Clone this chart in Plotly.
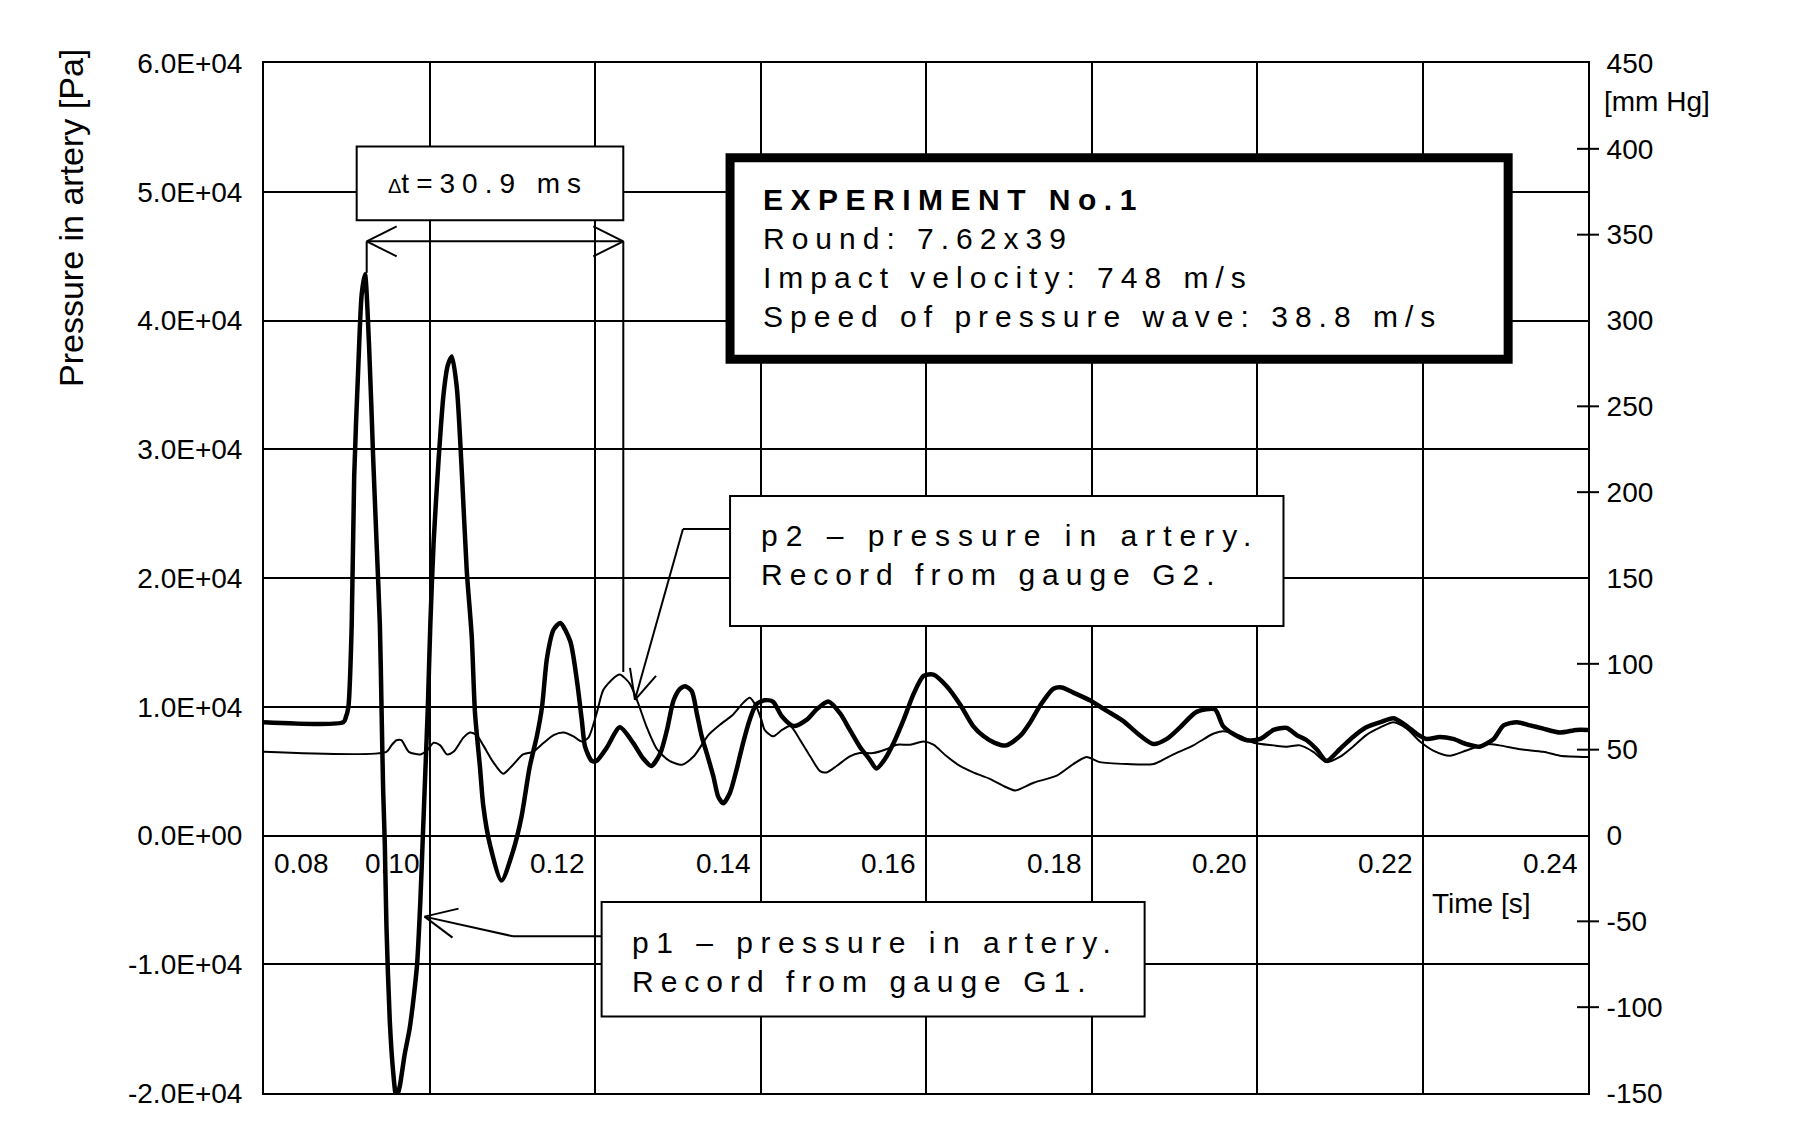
import plotly.graph_objects as go

# ---------------- data ----------------
t_p1 = [0.0800, 0.0896, 0.0899, 0.0902, 0.0906, 0.0909, 0.0914, 0.0918, 0.0922, 0.0927,
        0.0932, 0.0936, 0.0940, 0.0942, 0.0944, 0.0946, 0.0948, 0.0952, 0.0956, 0.0960,
        0.0964, 0.0970, 0.0976, 0.0981, 0.0985, 0.0989, 0.0992, 0.0995, 0.0998, 0.1001,
        0.1005, 0.1011, 0.1017, 0.1022, 0.1027, 0.1033, 0.1039, 0.1045, 0.1051, 0.1055,
        0.1061, 0.1065, 0.1073, 0.1087, 0.1101, 0.1111, 0.1121, 0.1130, 0.1136, 0.1142,
        0.1150, 0.1158, 0.1170, 0.1178, 0.1184, 0.1188, 0.1196, 0.1202, 0.1214, 0.1230,
        0.1246, 0.1258, 0.1268, 0.1279, 0.1287, 0.1295, 0.1303, 0.1309, 0.1317, 0.1323,
        0.1329, 0.1335, 0.1343, 0.1349, 0.1355, 0.1363, 0.1371, 0.1379, 0.1387, 0.1395,
        0.1405, 0.1415, 0.1426, 0.1440, 0.1456, 0.1468, 0.1482, 0.1496, 0.1508, 0.1520,
        0.1532, 0.1540, 0.1550, 0.1561, 0.1573, 0.1585, 0.1597, 0.1609, 0.1625, 0.1641,
        0.1657, 0.1669, 0.1683, 0.1697, 0.1714, 0.1726, 0.1738, 0.1754, 0.1764, 0.1778,
        0.1798, 0.1818, 0.1838, 0.1859, 0.1875, 0.1891, 0.1907, 0.1927, 0.1949, 0.1959,
        0.1971, 0.1988, 0.2004, 0.2020, 0.2036, 0.2048, 0.2060, 0.2072, 0.2084, 0.2100,
        0.2116, 0.2132, 0.2149, 0.2165, 0.2181, 0.2193, 0.2205, 0.2221, 0.2237, 0.2253,
        0.2269, 0.2286, 0.2298, 0.2314, 0.2330, 0.2346, 0.2366, 0.2386, 0.2400]
p1_pa = [8800, 8800, 9200, 10000, 16400, 27900, 36500, 42000, 43600, 38000,
         29200, 22800, 16400, 10000, 3500, -700, -7100, -14400, -18300, -20400,
         -19500, -17000, -15000, -12500, -10000, -5000, 0, 5000, 10000, 16400,
         22800, 29200, 34300, 36500, 37200, 34800, 28300, 20600, 15500, 9500,
         5300, 2300, -700, -3500, -1200, 1400, 5300, 7800, 10000, 13800,
         16000, 16500, 15100, 12100, 9000, 6900, 5800, 5800, 6800, 8400,
         7200, 6000, 5400, 6400, 8200, 10500, 11400, 11600, 11200, 9500,
         7700, 6400, 4600, 3000, 2500, 3300, 5100, 7200, 9000, 10200,
         10500, 10400, 9250, 8500, 9000, 9800, 10400, 9500, 8200, 6900,
         5900, 5200, 5900, 7200, 9000, 11000, 12400, 12500, 11600, 10200,
         8500, 7750, 7200, 7000, 7750, 8800, 10100, 11400, 11500, 11100,
         10500, 9700, 8900, 7750, 7100, 7500, 8400, 9600, 9800, 8500,
         7900, 7400, 7500, 8200, 8350, 7800, 7400, 6700, 5800, 6700,
         7650, 8400, 8800, 9100, 8500, 7900, 7500, 7650, 7500, 7100,
         6900, 7500, 8550, 8800, 8550, 8300, 8000, 8200, 8200]

t_p2 = [0.0800, 0.0948, 0.0954, 0.0960, 0.0966, 0.0975, 0.0989, 0.0997, 0.1005, 0.1013,
        0.1021, 0.1029, 0.1041, 0.1049, 0.1057, 0.1065, 0.1077, 0.1089, 0.1101, 0.1113,
        0.1125, 0.1138, 0.1150, 0.1162, 0.1174, 0.1184, 0.1192, 0.1202, 0.1210, 0.1222,
        0.1230, 0.1242, 0.1252, 0.1262, 0.1275, 0.1290, 0.1305, 0.1320, 0.1337, 0.1351,
        0.1367, 0.1379, 0.1387, 0.1395, 0.1401, 0.1405, 0.1415, 0.1426, 0.1436, 0.1448,
        0.1460, 0.1472, 0.1480, 0.1492, 0.1508, 0.1520, 0.1536, 0.1552, 0.1565, 0.1581,
        0.1597, 0.1609, 0.1625, 0.1641, 0.1657, 0.1677, 0.1697, 0.1708, 0.1730, 0.1758,
        0.1778, 0.1794, 0.1810, 0.1843, 0.1875, 0.1899, 0.1923, 0.1947, 0.1959, 0.1979,
        0.1996, 0.2020, 0.2036, 0.2052, 0.2068, 0.2084, 0.2100, 0.2116, 0.2132, 0.2149,
        0.2165, 0.2181, 0.2197, 0.2213, 0.2233, 0.2253, 0.2277, 0.2293, 0.2318, 0.2346,
        0.2366, 0.2400]
p2_pa = [6500, 6500, 7000, 7400, 7400, 6500, 6300, 6600, 7200, 7000,
         6300, 6500, 7600, 8000, 7800, 7000, 5700, 4800, 5500, 6300,
         6500, 7200, 7800, 8000, 7700, 7300, 7600, 9500, 11300, 12200,
         12500, 11800, 10300, 8500, 6700, 5800, 5500, 6200, 7800, 8600,
         9400, 10300, 10700, 10000, 9000, 8200, 7700, 8200, 8500, 7400,
         6150, 5000, 4900, 5400, 6150, 6400, 6400, 6700, 7050, 7050,
         7300, 7050, 6150, 5400, 4900, 4400, 3750, 3500, 4100, 4650,
         5550, 6100, 5700, 5550, 5550, 6300, 7000, 7900, 8100, 7750,
         7200, 7000, 6900, 7000, 6500, 5700, 6100, 6900, 7800, 8400,
         8800, 8300, 7300, 6600, 6200, 6600, 7100, 7000, 6700, 6500,
         6200, 6100]

x_ticks = [0.08, 0.10, 0.12, 0.14, 0.16, 0.18, 0.20, 0.22, 0.24]
x_labels = ["0.08", "0.10", "0.12", "0.14", "0.16", "0.18", "0.20", "0.22", "0.24"]
y_ticks = [-20000, -10000, 0, 10000, 20000, 30000, 40000, 50000, 60000]
y_labels = ["-2.0E+04", "-1.0E+04", "0.0E+00", "1.0E+04", "2.0E+04",
            "3.0E+04", "4.0E+04", "5.0E+04", "6.0E+04"]
mmhg_ticks = [-150, -100, -50, 0, 50, 100, 150, 200, 250, 300, 350, 400, 450]
mmhg_labels = ["-150", "-100", "-50", "0", "50", "100", "150", "200", "250",
               "300", "350", "400", "450"]
mmhg_marks = [-100, -50, 50, 100, 200, 250, 350, 400]

FONT = "Liberation Sans, Arial, sans-serif"
BLK = "#000000"
TICK_SIZE = 28


def spaced(s, ls):
    return '<span style="letter-spacing:%spx">%s</span>' % (ls, s)


fig = go.Figure()
fig.add_trace(go.Scatter(x=t_p2, y=p2_pa, mode="lines", name="p2",
                         line=dict(color=BLK, width=2, shape="spline", smoothing=0.7),
                         hoverinfo="skip"))
fig.add_trace(go.Scatter(x=t_p1, y=p1_pa, mode="lines", name="p1",
                         line=dict(color=BLK, width=4.5, shape="spline", smoothing=0.7),
                         hoverinfo="skip"))

shapes = []


def seg(xa, ya, xb, yb, w=2):
    shapes.append(dict(type="line", xref="x", yref="y", x0=xa, y0=ya, x1=xb, y1=yb,
                       line=dict(color=BLK, width=w), layer="above"))


def head(x, y, dx, dy, w=2):
    shapes.append(dict(type="line", xref="x", yref="y", xsizemode="pixel", ysizemode="pixel",
                       xanchor=x, yanchor=y, x0=0, y0=0, x1=dx, y1=dy,
                       line=dict(color=BLK, width=w), layer="above"))


def box(xa, ya, xb, yb, w=2):
    shapes.append(dict(type="rect", xref="x", yref="y", x0=xa, y0=ya, x1=xb, y1=yb,
                       fillcolor="white", line=dict(color=BLK, width=w), layer="above"))


# right-axis cross ticks
for v in mmhg_marks:
    shapes.append(dict(type="line", xref="paper", yref="y2", xsizemode="pixel",
                       xanchor=1, x0=-11, x1=11, y0=v, y1=v,
                       line=dict(color=BLK, width=2), layer="above"))

# delta-t box and arrow
box(0.0912, 47780, 0.12342, 53520)
seg(0.09241, 46150, 0.12342, 46150)
seg(0.09241, 46150, 0.09241, 43700)
seg(0.12342, 46150, 0.12342, 12700)
head(0.09241, 46150, 30, 15)
head(0.09241, 46150, 30, -15)
head(0.12342, 46150, -30, 15)
head(0.12342, 46150, -30, -15)

# experiment box (thick border)
box(0.13632, 37000, 0.23035, 52650, w=9)

# p2 box + leader
box(0.13632, 16280, 0.20320, 26360)
seg(0.12483, 10540, 0.13063, 23800)
seg(0.13063, 23800, 0.13632, 23800)
head(0.12483, 10540, 21, 24)
head(0.12483, 10540, -5, 32)

# p1 box + leader
box(0.12080, -14050, 0.18642, -5160)
seg(0.0994, -6300, 0.11009, -7830)
seg(0.11009, -7830, 0.12080, -7830)
head(0.0994, -6300, 28, -21)
head(0.0994, -6300, 34, 8)

annotations = []
# x tick labels drawn inside the plot under the zero line
for v, s in zip(x_ticks, x_labels):
    first = (v == x_ticks[0])
    annotations.append(dict(x=v, y=0, xref="x", yref="y", text=s, showarrow=False,
                            xanchor="left" if first else "right", yanchor="top",
                            xshift=8 if first else -8, yshift=-10,
                            font=dict(family=FONT, size=TICK_SIZE, color=BLK)))

annotations.append(dict(x=0.22707, y=-5270, xref="x", yref="y", text="Time [s]",
                        xanchor="center", yanchor="middle", showarrow=False,
                        font=dict(family=FONT, size=28, color=BLK)))
annotations.append(dict(x=-0.1458, y=0.8495, xref="paper", yref="paper",
                        text="Pressure in artery [Pa]", textangle=-90, showarrow=False,
                        xanchor="center", yanchor="middle",
                        font=dict(family=FONT, size=34, color=BLK)))
annotations.append(dict(x=1.0105, y=0.9631, xref="paper", yref="paper", text="[mm Hg]",
                        xanchor="left", yanchor="middle", showarrow=False,
                        font=dict(family=FONT, size=28, color=BLK)))

annotations.append(dict(x=0.10707, y=50620, xref="x", yref="y",
                        text='<span style="font-size:20px">Δ</span>' + spaced("t=30.9 ms", 7),
                        showarrow=False, xanchor="center", yanchor="middle",
                        font=dict(family=FONT, size=28, color=BLK)))

exp_lines = ["<b>" + spaced("EXPERIMENT No.1", 7.5) + "</b>",
             spaced("Round: 7.62x39", 7),
             spaced("Impact velocity: 748 m/s", 7),
             spaced("Speed of pressure wave: 38.8 m/s", 7)]
annotations.append(dict(x=0.14010, y=44850, xref="x", yref="y", text="<br>".join(exp_lines),
                        showarrow=False, xanchor="left", yanchor="middle", align="left",
                        font=dict(family=FONT, size=30, color=BLK)))

annotations.append(dict(x=0.13980, y=21780, xref="x", yref="y",
                        text=spaced("p2 – pressure in artery.", 8) + "<br>" +
                        spaced("Record from gauge G2.", 7),
                        showarrow=False, xanchor="left", yanchor="middle", align="left",
                        font=dict(family=FONT, size=30, color=BLK)))
annotations.append(dict(x=0.12420, y=-9810, xref="x", yref="y",
                        text=spaced("p1 – pressure in artery.", 7.5) + "<br>" +
                        spaced("Record from gauge G1.", 7),
                        showarrow=False, xanchor="left", yanchor="middle", align="left",
                        font=dict(family=FONT, size=30, color=BLK)))

fig.update_layout(
    width=1800, height=1141,
    margin=dict(l=264, r=212, t=63, b=48),
    paper_bgcolor="white", plot_bgcolor="white",
    showlegend=False,
    font=dict(family=FONT, size=TICK_SIZE, color=BLK),
    xaxis=dict(range=[0.08, 0.24], tickvals=x_ticks, showticklabels=False, ticks="",
               showgrid=True, gridcolor=BLK, gridwidth=2, zeroline=False,
               showline=True, linecolor=BLK, linewidth=2, mirror=True),
    yaxis=dict(range=[-20000, 60000], tickvals=y_ticks, ticktext=y_labels,
               ticks="outside", ticklen=14, tickcolor="rgba(0,0,0,0)",
               showgrid=True, gridcolor=BLK, gridwidth=2, zeroline=False,
               showline=True, linecolor=BLK, linewidth=2, mirror=True,
               tickfont=dict(family=FONT, size=TICK_SIZE, color=BLK)),
    yaxis2=dict(range=[-150, 450], overlaying="y", side="right", anchor="x",
                tickvals=mmhg_ticks, ticktext=mmhg_labels,
                ticks="outside", ticklen=12, tickcolor="rgba(0,0,0,0)",
                showgrid=False, zeroline=False, showline=False,
                tickfont=dict(family=FONT, size=TICK_SIZE, color=BLK)),
    shapes=shapes,
    annotations=annotations,
)

fig.write_html("out.html", config={"displayModeBar": False})
